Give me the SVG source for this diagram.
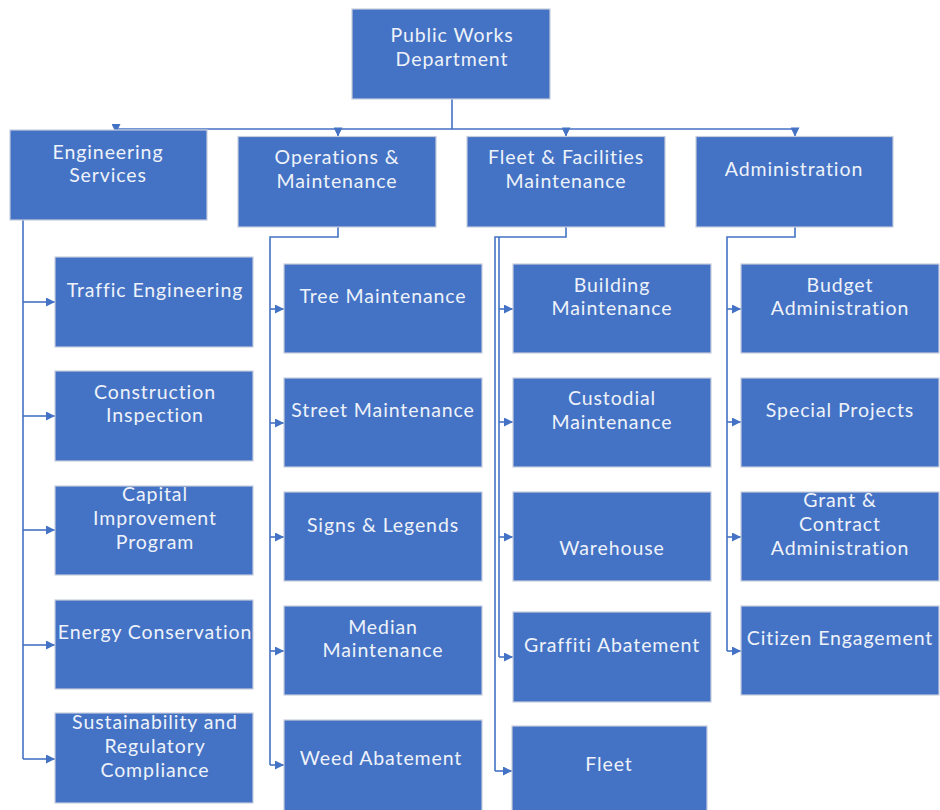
<svg xmlns="http://www.w3.org/2000/svg" width="940" height="810" viewBox="0 0 940 810">
<defs>
<style>
.box{fill:#4472C4;stroke:#c6cede;stroke-width:1.2}
.t{font-family:Lato,"Open Sans","Liberation Sans",sans-serif;font-size:19.5px;fill:#eef2fa;text-anchor:middle;letter-spacing:0.9px}
.c{fill:none;stroke:#4472C4;stroke-width:1.6}
.a{fill:none;stroke:#4472C4;stroke-width:1.6;marker-end:url(#arr)}
</style>
<marker id="arr" viewBox="0 0 10 10" refX="10" refY="5" markerWidth="11" markerHeight="9" markerUnits="userSpaceOnUse" orient="auto">
<path d="M0,0 L10,5 L0,10 z" fill="#4472C4"/>
</marker>
</defs>
<rect width="940" height="810" fill="#ffffff"/>
<g id="connectors">
<path class="c" d="M452,99 V129 M116,129 H795"/>
<path class="a" d="M116,129 V133"/>
<path class="a" d="M338,129 V136.5"/>
<path class="a" d="M566,129 V136.5"/>
<path class="a" d="M795,129 V136.5"/>
<path class="c" d="M23,220 V759"/>
<path class="a" d="M23,302 H55"/>
<path class="a" d="M23,416 H55"/>
<path class="a" d="M23,530 H55"/>
<path class="a" d="M23,645 H55"/>
<path class="a" d="M23,759 H55"/>
<path class="c" d="M338,227 V237 H270 V765"/>
<path class="a" d="M270,309 H284"/>
<path class="a" d="M270,423 H284"/>
<path class="a" d="M270,537 H284"/>
<path class="a" d="M270,651 H284"/>
<path class="a" d="M270,765 H284"/>
<path class="c" d="M566,227 V237 H495 V771"/>
<path class="a" d="M495,771 H512"/>
<path class="c" d="M499,237 V657"/>
<path class="a" d="M499,309 H513"/>
<path class="a" d="M499,422 H513"/>
<path class="a" d="M499,537 H513"/>
<path class="a" d="M499,657 H513"/>
<path class="c" d="M795,227 V237 H727 V651"/>
<path class="a" d="M727,309 H741"/>
<path class="a" d="M727,422 H741"/>
<path class="a" d="M727,537 H741"/>
<path class="a" d="M727,651 H741"/>
</g>
<g id="public-works"><rect class="box" x="352" y="9" width="198" height="90"/><text class="t" x="452" y="42">Public Works</text><text class="t" x="452" y="66">Department</text></g>
<g id="engineering-services"><rect class="box" x="10" y="130" width="197" height="90"/><text class="t" x="108" y="159">Engineering</text><text class="t" x="108" y="182">Services</text></g>
<g id="operations"><rect class="box" x="238" y="136.5" width="198" height="90.5"/><text class="t" x="337" y="164">Operations &amp;</text><text class="t" x="337" y="188">Maintenance</text></g>
<g id="fleet-facilities"><rect class="box" x="467" y="136.5" width="198" height="90.5"/><text class="t" x="566" y="164">Fleet &amp; Facilities</text><text class="t" x="566" y="188">Maintenance</text></g>
<g id="administration"><rect class="box" x="696" y="136.5" width="197" height="90.5"/><text class="t" x="794" y="176">Administration</text></g>
<g id="traffic-engineering"><rect class="box" x="55" y="257" width="198" height="90"/><text class="t" x="155" y="297">Traffic Engineering</text></g>
<g id="construction-inspection"><rect class="box" x="55" y="371" width="198" height="90"/><text class="t" x="155" y="399">Construction</text><text class="t" x="155" y="422">Inspection</text></g>
<g id="capital-improvement"><rect class="box" x="55" y="486" width="198" height="89"/><text class="t" x="155" y="501">Capital</text><text class="t" x="155" y="525">Improvement</text><text class="t" x="155" y="549">Program</text></g>
<g id="energy-conservation"><rect class="box" x="55" y="600" width="198" height="89"/><text class="t" x="155" y="639">Energy Conservation</text></g>
<g id="sustainability"><rect class="box" x="55" y="713" width="198" height="90"/><text class="t" x="155" y="729">Sustainability and</text><text class="t" x="155" y="753">Regulatory</text><text class="t" x="155" y="777">Compliance</text></g>
<g id="tree-maintenance"><rect class="box" x="284" y="264" width="198" height="89"/><text class="t" x="383" y="303">Tree Maintenance</text></g>
<g id="street-maintenance"><rect class="box" x="284" y="378" width="198" height="89"/><text class="t" x="383" y="417">Street Maintenance</text></g>
<g id="signs-legends"><rect class="box" x="284" y="492" width="198" height="89"/><text class="t" x="383" y="532">Signs &amp; Legends</text></g>
<g id="median-maintenance"><rect class="box" x="284" y="606" width="198" height="89"/><text class="t" x="383" y="634">Median</text><text class="t" x="383" y="657">Maintenance</text></g>
<g id="weed-abatement"><rect class="box" x="284" y="720" width="198" height="95"/><text class="t" x="381" y="765">Weed Abatement</text></g>
<g id="building-maintenance"><rect class="box" x="513" y="264" width="198" height="89"/><text class="t" x="612" y="292">Building</text><text class="t" x="612" y="315">Maintenance</text></g>
<g id="custodial-maintenance"><rect class="box" x="513" y="378" width="198" height="89"/><text class="t" x="612" y="405">Custodial</text><text class="t" x="612" y="429">Maintenance</text></g>
<g id="warehouse"><rect class="box" x="513" y="492" width="198" height="89"/><text class="t" x="612" y="555">Warehouse</text></g>
<g id="graffiti-abatement"><rect class="box" x="513" y="612" width="198" height="90"/><text class="t" x="612" y="652">Graffiti Abatement</text></g>
<g id="fleet"><rect class="box" x="512" y="726" width="195" height="90"/><text class="t" x="609" y="771">Fleet</text></g>
<g id="budget-administration"><rect class="box" x="741" y="264" width="198" height="89"/><text class="t" x="840" y="292">Budget</text><text class="t" x="840" y="315">Administration</text></g>
<g id="special-projects"><rect class="box" x="741" y="378" width="198" height="89"/><text class="t" x="840" y="417">Special Projects</text></g>
<g id="grant-contract"><rect class="box" x="741" y="492" width="198" height="89"/><text class="t" x="840" y="507">Grant &amp;</text><text class="t" x="840" y="531">Contract</text><text class="t" x="840" y="555">Administration</text></g>
<g id="citizen-engagement"><rect class="box" x="741" y="606" width="198" height="89"/><text class="t" x="840" y="645">Citizen Engagement</text></g>
</svg>
